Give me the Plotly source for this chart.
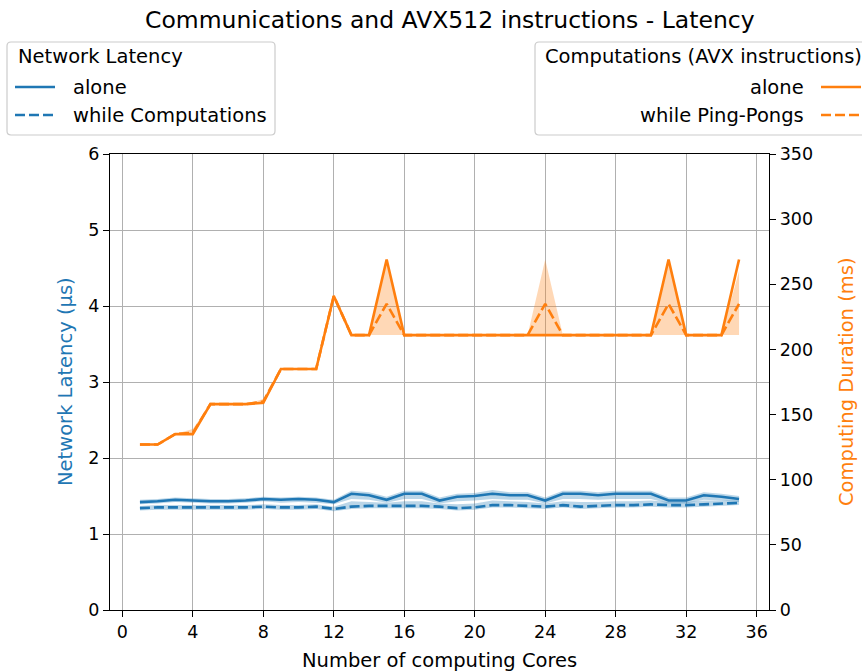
import plotly.graph_objects as go

# data
cores = list(range(1, 36))

net_alone = [1.42, 1.43, 1.45, 1.44, 1.43, 1.43, 1.44, 1.46, 1.45, 1.46, 1.45, 1.42,
             1.53, 1.51, 1.45, 1.53, 1.53, 1.44, 1.49, 1.50, 1.53, 1.51, 1.51, 1.44,
             1.53, 1.53, 1.51, 1.53, 1.53, 1.53, 1.44, 1.44, 1.51, 1.49, 1.46]
net_alone_lo = [1.39, 1.40, 1.42, 1.41, 1.40, 1.40, 1.41, 1.43, 1.41, 1.42, 1.41, 1.39,
                1.46, 1.45, 1.41, 1.46, 1.46, 1.40, 1.43, 1.44, 1.46, 1.45, 1.45, 1.40,
                1.46, 1.46, 1.45, 1.46, 1.46, 1.46, 1.40, 1.40, 1.45, 1.44, 1.42]
net_alone_hi = [1.45, 1.46, 1.48, 1.47, 1.46, 1.46, 1.47, 1.49, 1.48, 1.49, 1.48, 1.45,
                1.57, 1.55, 1.49, 1.57, 1.57, 1.48, 1.53, 1.54, 1.58, 1.55, 1.55, 1.48,
                1.57, 1.57, 1.55, 1.57, 1.57, 1.57, 1.48, 1.48, 1.55, 1.53, 1.50]

net_while = [1.34, 1.35, 1.35, 1.35, 1.35, 1.35, 1.35, 1.36, 1.35, 1.35, 1.36, 1.33,
             1.36, 1.37, 1.37, 1.37, 1.37, 1.36, 1.34, 1.35, 1.38, 1.38, 1.37, 1.36,
             1.38, 1.36, 1.37, 1.38, 1.38, 1.39, 1.38, 1.38, 1.39, 1.40, 1.41]
net_while_lo = [1.31, 1.32, 1.32, 1.32, 1.32, 1.32, 1.32, 1.33, 1.32, 1.32, 1.33, 1.30,
                1.33, 1.34, 1.34, 1.34, 1.34, 1.33, 1.31, 1.32, 1.35, 1.35, 1.34, 1.33,
                1.35, 1.33, 1.34, 1.35, 1.35, 1.36, 1.35, 1.35, 1.36, 1.37, 1.38]
net_while_hi = [1.37, 1.38, 1.38, 1.38, 1.38, 1.38, 1.38, 1.39, 1.38, 1.38, 1.39, 1.36,
                1.43, 1.42, 1.41, 1.43, 1.43, 1.40, 1.39, 1.40, 1.44, 1.43, 1.42, 1.40,
                1.43, 1.42, 1.42, 1.43, 1.43, 1.44, 1.42, 1.42, 1.44, 1.44, 1.44]

avx_alone = [127, 127, 135, 135, 158, 158, 158, 159, 185, 185, 185, 241,
             211, 211, 269, 211, 211, 211, 211, 211, 211, 211, 211, 211,
             211, 211, 211, 211, 211, 211, 269, 211, 211, 211, 269]
avx_while = [127, 127, 135, 136, 158, 158, 158, 160, 185, 185, 185, 241,
             211, 211, 235, 211, 211, 211, 211, 211, 211, 211, 211, 235,
             211, 211, 211, 211, 211, 211, 235, 211, 211, 211, 235]
avx_while_lo = [127, 127, 135, 135, 158, 158, 158, 158, 185, 185, 185, 241,
                211, 211, 211, 211, 211, 211, 211, 211, 211, 211, 211, 211,
                211, 211, 211, 211, 211, 211, 211, 211, 211, 211, 211]
avx_while_hi = [127, 127, 135, 139, 158, 158, 158, 162, 185, 185, 185, 241,
                211, 211, 269, 211, 211, 211, 211, 211, 211, 211, 211, 269,
                211, 211, 211, 211, 211, 211, 269, 211, 211, 211, 260]

x_ticks = list(range(0, 37, 4))
left_ticks = list(range(0, 7))
right_ticks = list(range(0, 351, 50))

BLUE = "#1f77b4"
ORANGE = "#ff7f0e"
FONT = "DejaVu Sans"

# plot area in pixels
L, R, T, B = 110, 769, 154, 610


def px(x):
    return (x - L) / (R - L)


def py(y):
    return (B - y) / (B - T)


fig = go.Figure()


def band(lo, hi, color, axis):
    fig.add_trace(go.Scatter(x=cores, y=lo, mode="lines", line=dict(width=0),
                             yaxis=axis, showlegend=False, hoverinfo="skip"))
    fig.add_trace(go.Scatter(x=cores, y=hi, mode="lines", line=dict(width=0),
                             fill="tonexty", fillcolor=color,
                             yaxis=axis, showlegend=False, hoverinfo="skip"))


band(net_alone_lo, net_alone_hi, "rgba(31,119,180,0.3)", "y")
band(net_while_lo, net_while_hi, "rgba(31,119,180,0.3)", "y")
fig.add_trace(go.Scatter(x=cores, y=net_alone, mode="lines", name="alone",
                         line=dict(color=BLUE, width=2.6), showlegend=False))
fig.add_trace(go.Scatter(x=cores, y=net_while, mode="lines", name="while Computations",
                         line=dict(color=BLUE, width=2.6, dash="10px,4px"), showlegend=False))

band(avx_while_lo, avx_while_hi, "rgba(255,127,14,0.3)", "y2")
fig.add_trace(go.Scatter(x=cores, y=avx_alone, mode="lines", name="alone", yaxis="y2",
                         line=dict(color=ORANGE, width=2.6), showlegend=False))
fig.add_trace(go.Scatter(x=cores, y=avx_while, mode="lines", name="while Ping-Pongs", yaxis="y2",
                         line=dict(color=ORANGE, width=2.6, dash="10px,4px"), showlegend=False))

axis_common = dict(showline=True, linecolor="black", linewidth=1.4, ticks="outside",
                   ticklen=6, tickwidth=1.4, tickcolor="black", zeroline=False,
                   tickfont=dict(family=FONT, size=17.5, color="black"))

fig.update_layout(
    width=862, height=671,
    margin=dict(l=L, r=862 - R, t=T, b=671 - B, pad=0),
    plot_bgcolor="white", paper_bgcolor="white",
    showlegend=False,
    font=dict(family=FONT, color="black"),
    xaxis=dict(range=[-0.7, 36.7], tickvals=x_ticks, showgrid=True, gridcolor="#b0b0b0",
               gridwidth=1.2, mirror=True, **axis_common),
    yaxis=dict(range=[0, 6], tickvals=left_ticks, showgrid=True, gridcolor="#b0b0b0",
               gridwidth=1.2, **axis_common),
    yaxis2=dict(range=[0, 350], tickvals=right_ticks, overlaying="y", side="right",
                showgrid=False, **axis_common),
)

annotations = [
    dict(text="Communications and AVX512 instructions - Latency", x=px(450), y=py(20),
         showarrow=False, xanchor="center", yanchor="middle", font=dict(size=23.5)),
    dict(text="Number of computing Cores", x=px(439), y=py(660), showarrow=False,
         xanchor="center", yanchor="middle", font=dict(size=19.5)),
    dict(text="Network Latency (µs)", x=px(65), y=0.5, textangle=-90, showarrow=False,
         xanchor="center", yanchor="middle", font=dict(size=19.5, color=BLUE)),
    dict(text="Computing Duration (ms)", x=px(846), y=0.5, textangle=-90, showarrow=False,
         xanchor="center", yanchor="middle", font=dict(size=19.5, color=ORANGE)),
]


def rounded_box(x0, y0, x1, y1, r=4):
    a0, a1 = px(x0), px(x1)
    b0, b1 = py(y0), py(y1)
    rx = r / (R - L)
    ry = r / (B - T)
    return (f"M {a0 + rx},{b0} L {a1 - rx},{b0} Q {a1},{b0} {a1},{b0 - ry} "
            f"L {a1},{b1 + ry} Q {a1},{b1} {a1 - rx},{b1} L {a0 + rx},{b1} "
            f"Q {a0},{b1} {a0},{b1 + ry} L {a0},{b0 - ry} Q {a0},{b0} {a0 + rx},{b0} Z")


shapes = []
for box in [(7, 42, 275, 135), (535, 42, 866, 135)]:
    shapes.append(dict(type="path", path=rounded_box(*box), xref="paper", yref="paper",
                       line=dict(color="#cccccc", width=1.2),
                       fillcolor="rgba(255,255,255,0.8)", layer="above"))

# left legend
annotations.append(dict(text="Network Latency", x=px(16), y=py(57), showarrow=False,
                        xanchor="left", yanchor="middle", font=dict(size=19.5)))
for yy, label, dash in [(87, "alone", "solid"), (115, "while Computations", "10px,4px")]:
    shapes.append(dict(type="line", xref="paper", yref="paper", x0=px(15), x1=px(55),
                       y0=py(yy), y1=py(yy), line=dict(color=BLUE, width=2.6, dash=dash),
                       layer="above"))
    annotations.append(dict(text=label, x=px(71), y=py(yy), showarrow=False,
                            xanchor="left", yanchor="middle", font=dict(size=19.5)))

# right legend (markers after text)
annotations.append(dict(text="Computations (AVX instructions)", x=px(543), y=py(57),
                        showarrow=False, xanchor="left", yanchor="middle", font=dict(size=19.5)))
for yy, label, dash in [(87, "alone", "solid"), (115, "while Ping-Pongs", "10px,4px")]:
    shapes.append(dict(type="line", xref="paper", yref="paper", x0=px(821), x1=px(861),
                       y0=py(yy), y1=py(yy), line=dict(color=ORANGE, width=2.6, dash=dash),
                       layer="above"))
    annotations.append(dict(text=label, x=px(806), y=py(yy), showarrow=False,
                            xanchor="right", yanchor="middle", font=dict(size=19.5)))

for a in annotations:
    a.setdefault("xref", "paper")
    a.setdefault("yref", "paper")

fig.update_layout(annotations=annotations, shapes=shapes)

# page body has a default 8px margin; drop it so the figure sits at 0,0
fig.write_html("out.html", config={"displayModeBar": False},
               post_script="document.body.style.margin='0';")
